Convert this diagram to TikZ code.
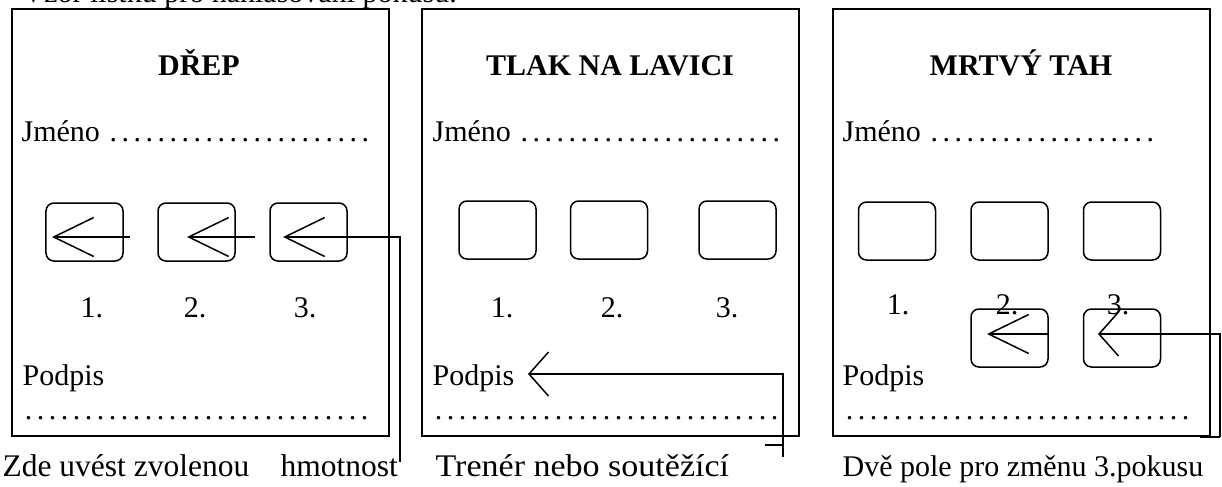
\documentclass[tikz,border=0pt]{standalone}
\usepackage{fontspec}
\setmainfont{Liberation Serif}
\usetikzlibrary{arrows.meta}

\newcommand{\tecky}[1]{\makebox[#1]{\leaders\hbox to 4.8pt{\hss.\hss}\hfill}}

\begin{document}
\begin{tikzpicture}[x=0.4pt, y=-0.4pt, line width=0.5pt,
        every node/.style={font=\fontsize{12}{14}\selectfont, inner sep=0pt},
        listek/.style={draw, line width=0.9pt, minimum width=150.8pt, minimum height=170.8pt},
        pole/.style={draw, line width=0.6pt, rounded corners=3.2pt, minimum width=30.8pt, minimum height=23.2pt},
        nadpis/.style={anchor=base, font=\fontsize{12}{14}\selectfont\bfseries},
        radek/.style={anchor=base west},
        cislo/.style={anchor=base},
        popis/.style={anchor=base west, font=\fontsize{12.6}{14}\selectfont},
        sipka/.style={-{Straight Barb[length=16pt, width=15.6pt, line width=0.6pt]}},
        sipkaK/.style={-{Straight Barb[length=7.8pt, width=17.6pt, line width=0.6pt]}}]
            \useasboundingbox (0,0) rectangle (1222,487);
            \node[radek] (Vzor) at (22,2) {Vzor lístku pro nahlašování pokusu.};

            \node[listek] (ListekA) at (200.5,222.5) {};
            \node[nadpis] (Drep) at (199,75) {DŘEP};
            \node[radek] (JmenoA) at (21,141) {Jméno \tecky{108pt}};
            \node[pole] (PoleA1) at (84.5,232) {};
            \node[pole] (PoleA2) at (196.5,232) {};
            \node[pole] (PoleA3) at (308.5,232) {};
            \node[cislo] (CisloA1) at (92,317) {1.};
            \node[cislo] (CisloA2) at (195,317) {2.};
            \node[cislo] (CisloA3) at (305,317) {3.};
            \node[radek] (PodpisA) at (22,385) {Podpis};
            \node[radek] (TeckyA) at (22,419) {\tecky{140pt}};
            \node[popis] (PopisA) at (2,476) {Zde uvést zvolenou\hspace{12.5pt}hmotnost};

            \coordinate (sA1) at (130,237);
            \coordinate (tA1) at (52,237);
            \coordinate (sA2) at (255,237);
            \coordinate (tA2) at (187,237);
            \coordinate (tA3) at (283,237);
            \coordinate (zA) at (400,462);
            \draw[sipka] (sA1) -- (tA1);
            \draw[sipka] (sA2) -- (tA2);
            \draw[sipka] (zA) |- (tA3);

            \node[listek] (ListekB) at (610.5,222.5) {};
            \node[nadpis] (TlakNaLavici) at (610,75) {TLAK NA LAVICI};
            \node[radek] (JmenoB) at (432,141) {Jméno \tecky{108pt}};
            \node[pole] (PoleB1) at (497.5,230) {};
            \node[pole] (PoleB2) at (609,230) {};
            \node[pole] (PoleB3) at (737.5,230) {};
            \node[cislo] (CisloB1) at (502,317) {1.};
            \node[cislo] (CisloB2) at (612,317) {2.};
            \node[cislo] (CisloB3) at (727,317) {3.};
            \node[radek] (PodpisB) at (432,385) {Podpis};
            \node[radek] (TeckyB) at (432,419) {\tecky{143pt}};
            \node[popis] (PopisB) at (435,476) {\scalebox{1.08}[1]{Trenér nebo soutěžící}};

            \coordinate (tB) at (528,374);
            \coordinate (zB) at (783,457);
            \coordinate (kB) at (765,445);
            \draw[sipkaK] (zB) |- (tB);
            \draw (kB) -- (kB -| zB);

            \node[listek] (ListekC) at (1021.5,222.5) {};
            \node[nadpis] (MrtvyTah) at (1021,75) {MRTVÝ TAH};
            \node[radek] (JmenoC) at (842,141) {Jméno \tecky{94pt}};
            \node[pole] (PoleC1) at (897,231) {};
            \node[pole] (PoleC2) at (1009.5,231) {};
            \node[pole] (PoleC3) at (1122,231) {};
            \node[cislo] (CisloC1) at (898,314) {1.};
            \node[cislo] (CisloC2) at (1007,314) {2.};
            \node[cislo] (CisloC3) at (1118,314) {3.};
            \node[pole] (ZmenaC2) at (1009.5,338) {};
            \node[pole] (ZmenaC3) at (1122,338) {};
            \node[radek] (PodpisC) at (842,385) {Podpis};
            \node[radek] (TeckyC) at (843,419) {\tecky{143pt}};
            \node[radek] (PopisC) at (842,476) {Dvě pole pro změnu 3.pokusu};

            \coordinate (sC) at (1048,334);
            \coordinate (tC1) at (987,334);
            \coordinate (tC2) at (1098,334);
            \coordinate (zC) at (1220,437);
            \coordinate (kC) at (1200,437);
            \draw[sipka] (sC) -- (tC1);
            \draw[sipkaK] (zC) |- (tC2);
            \draw (kC) -- (zC);
\end{tikzpicture}
\end{document}
